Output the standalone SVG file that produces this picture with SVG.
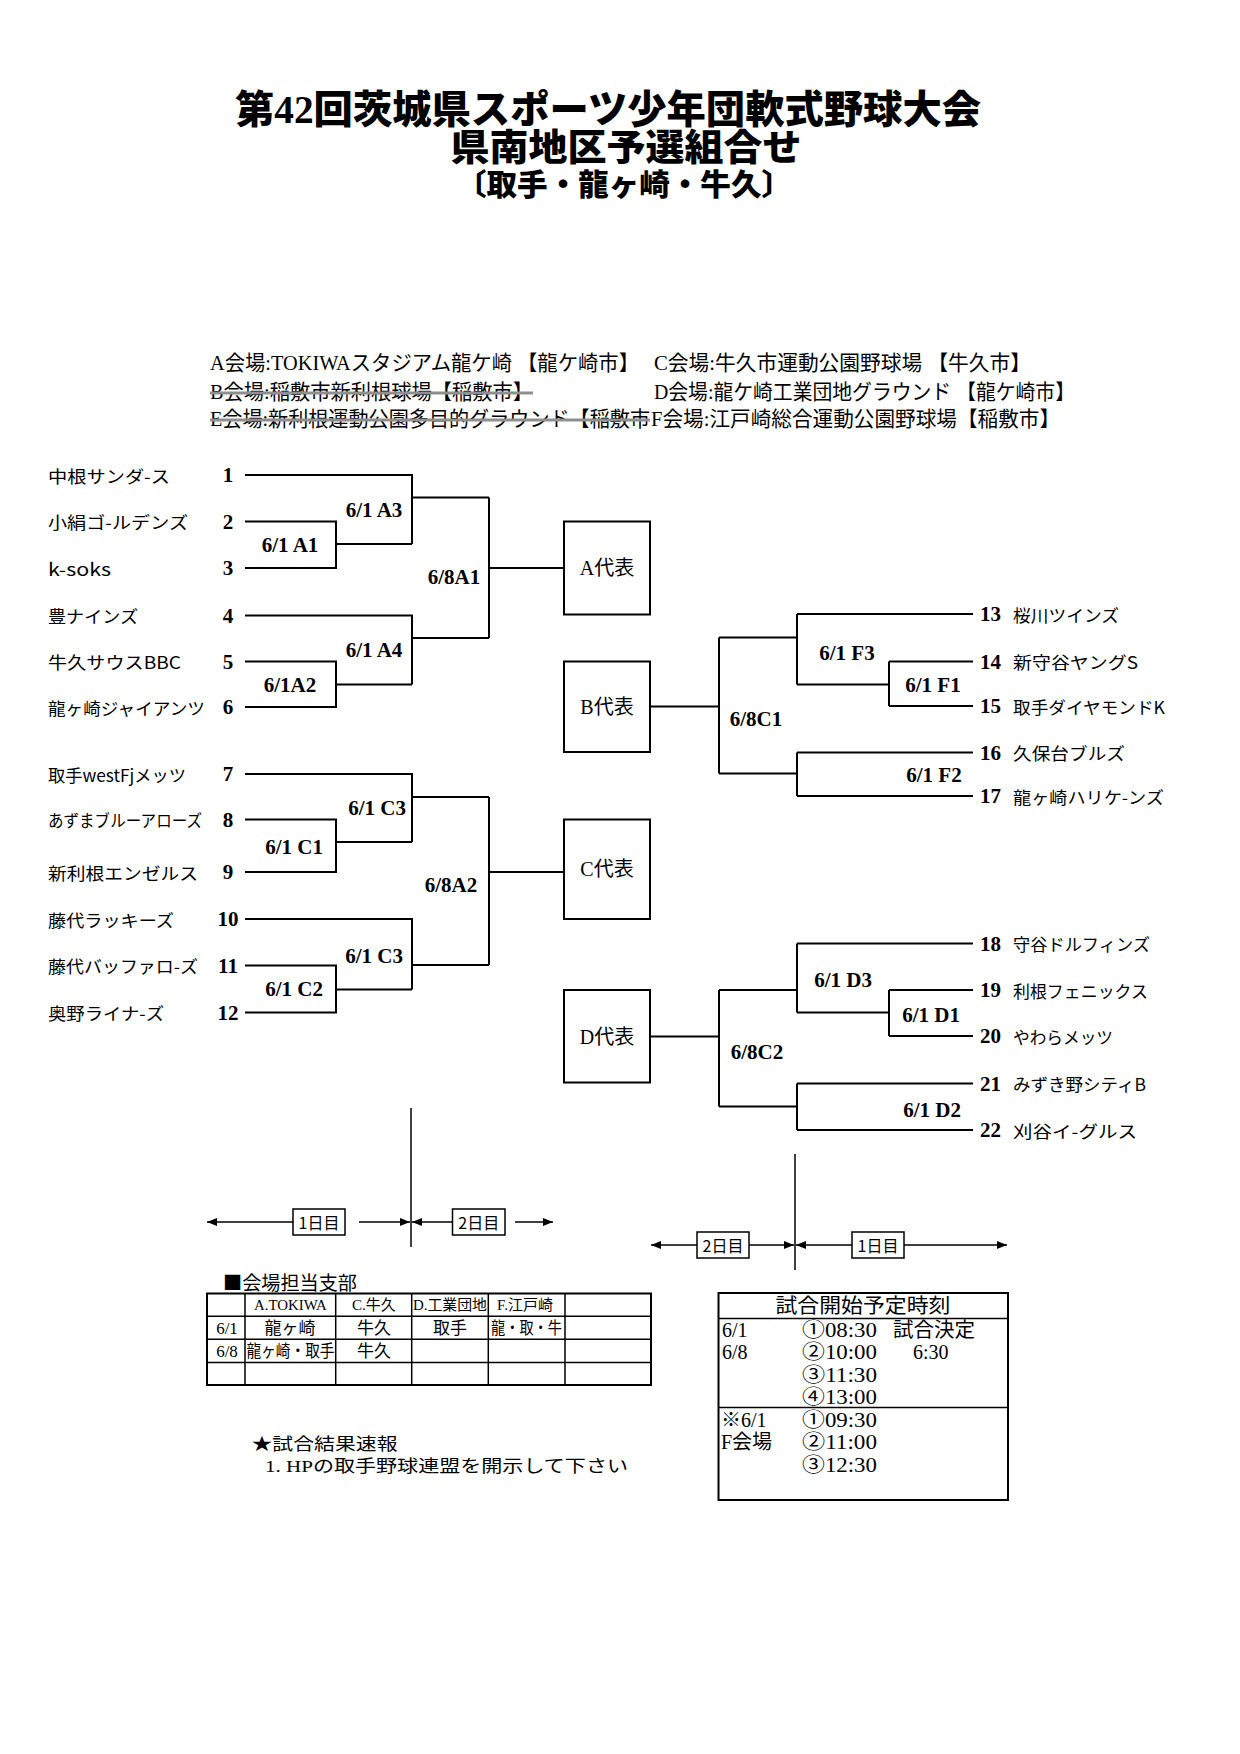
<svg xmlns="http://www.w3.org/2000/svg" width="1240" height="1754" viewBox="0 0 1240 1754">
<style>
text{dominant-baseline:central}
.ttl{font-family:"Liberation Serif","Noto Sans CJK JP",serif;font-weight:900;text-anchor:middle}
.ven{font-family:"Liberation Serif","Noto Sans CJK JP",serif;font-size:21px}
.tm{font-family:"Noto Sans CJK JP",sans-serif;font-size:17px}
.num{font-family:"Liberation Serif",serif;font-weight:bold;font-size:21px}
.nl{text-anchor:middle}
.lbl{font-family:"Liberation Serif",serif;font-weight:bold;font-size:21px;text-anchor:middle}
.bx{fill:#fff;stroke:#000;stroke-width:2}
.bxt{font-family:"Liberation Serif","Noto Sans CJK JP",serif;font-size:20px;text-anchor:middle}
.ln{fill:none;stroke:#000;stroke-width:2}
.al{fill:none;stroke:#000;stroke-width:1.5}
.sb{fill:#fff;stroke:#000;stroke-width:1.5}
.sbt{font-family:"Noto Sans CJK JP",sans-serif;font-size:16px;text-anchor:middle}
.strike{stroke:#8f8f8f;stroke-width:3}
.grid{fill:none;stroke:#000;stroke-width:1.5}
.tbl{font-family:"Liberation Serif","Noto Sans CJK JP",serif;font-size:17px}
.tbh{font-family:"Liberation Serif","Noto Sans CJK JP",serif;font-size:15px}
.sch{font-family:"Liberation Serif","Noto Sans CJK JP",serif;font-size:20px}
.mid{text-anchor:middle}
</style>
<defs>
<marker id="ah" viewBox="0 0 10 8" refX="10" refY="4" markerWidth="10" markerHeight="8" markerUnits="userSpaceOnUse" orient="auto-start-reverse">
<path d="M0,0 L10,4 L0,8 z" fill="#000"/>
</marker>
</defs>
<rect width="1240" height="1754" fill="#fff"/>

<g id="title">
<text class="ttl" x="608" y="109" font-size="39" textLength="746" lengthAdjust="spacingAndGlyphs">第42回茨城県スポーツ少年団軟式野球大会</text>
<text class="ttl" x="626" y="148" font-size="37" textLength="351" lengthAdjust="spacingAndGlyphs">県南地区予選組合せ</text>
<text class="ttl" x="624" y="184" font-size="30" textLength="336" lengthAdjust="spacingAndGlyphs">〔取手・龍ヶ崎・牛久〕</text>
</g>

<g id="venues">
<text class="ven" x="210" y="363" textLength="429" lengthAdjust="spacingAndGlyphs">A会場:TOKIWAスタジアム龍ケ崎 【龍ケ崎市】</text>
<text class="ven" x="654" y="363" textLength="377" lengthAdjust="spacingAndGlyphs">C会場:牛久市運動公園野球場 【牛久市】</text>
<text class="ven" x="210" y="392" textLength="323" lengthAdjust="spacingAndGlyphs">B会場:稲敷市新利根球場【稲敷市】</text>
<line class="strike" x1="210" y1="393" x2="533" y2="393"/>
<text class="ven" x="654" y="392" textLength="421" lengthAdjust="spacingAndGlyphs">D会場:龍ケ崎工業団地グラウンド 【龍ケ崎市】</text>
<text class="ven" x="210" y="419" textLength="440" lengthAdjust="spacingAndGlyphs">E会場:新利根運動公園多目的グラウンド【稲敷市</text>
<line class="strike" x1="210" y1="420" x2="650" y2="420"/>
<text class="ven" x="651" y="419" textLength="409" lengthAdjust="spacingAndGlyphs">F会場:江戸崎総合運動公園野球場【稲敷市】</text>
</g>

<g id="connectors">
<path class="ln" d="M245,475 H412 V544 M245,521.5 H336 V568 H245 M336,544 H412 M412,497.5 H489"/>
<path class="ln" d="M245,615.5 H412 V684.5 M245,661.5 H336 V707 H245 M336,684.5 H412 M412,638 H489"/>
<path class="ln" d="M489,497.5 V638 M489,568 H564"/>
<path class="ln" d="M245,774 H412 V842 M245,819.5 H336 V872 H245 M336,842 H412 M412,797 H489"/>
<path class="ln" d="M245,919 H412 V989.5 M245,965.5 H336 V1012.5 H245 M336,989.5 H412 M412,965 H489"/>
<path class="ln" d="M489,797 V965 M489,872 H564"/>
<path class="ln" d="M650,706.5 H719 M719,637.5 V773.5 M719,637.5 H797 M797,614 V684.5 M797,614 H973 M797,684.5 H889 M889,661.5 V706 M889,661.5 H973 M889,706 H973 M719,773.5 H797 M797,752.5 V796 M797,752.5 H973 M797,796 H973"/>
<path class="ln" d="M650,1036.5 H719 M719,990 V1106.5 M719,990 H797 M797,943.5 V1012.5 M797,943.5 H973 M797,1012.5 H889 M889,990 V1036 M889,990 H973 M889,1036 H973 M719,1106.5 H797 M797,1083.5 V1130 M797,1083.5 H973 M797,1130 H973"/>
<line class="al" x1="411" y1="1108" x2="411" y2="1247"/>
<path class="al" d="M293,1222 H207" marker-end="url(#ah)"/>
<path class="al" d="M359,1222 H410" marker-end="url(#ah)"/>
<path class="al" d="M452,1222 H412" marker-end="url(#ah)"/>
<path class="al" d="M515,1222 H553" marker-end="url(#ah)"/>
<line class="al" x1="795" y1="1154" x2="795" y2="1270"/>
<path class="al" d="M697,1245 H651" marker-end="url(#ah)"/>
<path class="al" d="M749,1245 H794" marker-end="url(#ah)"/>
<path class="al" d="M852,1245 H796" marker-end="url(#ah)"/>
<path class="al" d="M904,1245 H1007" marker-end="url(#ah)"/>
</g>

<g id="teams-left">
<g id="team-1"><text class="tm" x="48" y="475" textLength="122" lengthAdjust="spacingAndGlyphs">中根サンダ-ス</text><text class="num nl" x="228" y="475">1</text></g>
<g id="team-2"><text class="tm" x="48" y="521.5" textLength="140" lengthAdjust="spacingAndGlyphs">小絹ゴ-ルデンズ</text><text class="num nl" x="228" y="521.5">2</text></g>
<g id="team-3"><text class="tm" x="48" y="568" textLength="63" lengthAdjust="spacingAndGlyphs">k-soks</text><text class="num nl" x="228" y="568">3</text></g>
<g id="team-4"><text class="tm" x="48" y="615.5" textLength="90" lengthAdjust="spacingAndGlyphs">豊ナインズ</text><text class="num nl" x="228" y="615.5">4</text></g>
<g id="team-5"><text class="tm" x="48" y="661.5" textLength="133" lengthAdjust="spacingAndGlyphs">牛久サウスBBC</text><text class="num nl" x="228" y="661.5">5</text></g>
<g id="team-6"><text class="tm" x="48" y="707" textLength="157" lengthAdjust="spacingAndGlyphs">龍ヶ崎ジャイアンツ</text><text class="num nl" x="228" y="707">6</text></g>
<g id="team-7"><text class="tm" x="48" y="774" textLength="138" lengthAdjust="spacingAndGlyphs">取手westFjメッツ</text><text class="num nl" x="228" y="774">7</text></g>
<g id="team-8"><text class="tm" x="48" y="819.5" textLength="154" lengthAdjust="spacingAndGlyphs">あずまブルーアローズ</text><text class="num nl" x="228" y="819.5">8</text></g>
<g id="team-9"><text class="tm" x="48" y="872" textLength="150" lengthAdjust="spacingAndGlyphs">新利根エンゼルス</text><text class="num nl" x="228" y="872">9</text></g>
<g id="team-10"><text class="tm" x="48" y="919" textLength="126" lengthAdjust="spacingAndGlyphs">藤代ラッキーズ</text><text class="num nl" x="228" y="919">10</text></g>
<g id="team-11"><text class="tm" x="48" y="965.5" textLength="150" lengthAdjust="spacingAndGlyphs">藤代バッファロ-ズ</text><text class="num nl" x="228" y="965.5">11</text></g>
<g id="team-12"><text class="tm" x="48" y="1012.5" textLength="116" lengthAdjust="spacingAndGlyphs">奥野ライナ-ズ</text><text class="num nl" x="228" y="1012.5">12</text></g>
</g>

<g id="teams-right">
<g id="team-13"><text class="num" x="980" y="614">13</text><text class="tm" x="1013" y="614" textLength="106" lengthAdjust="spacingAndGlyphs">桜川ツインズ</text></g>
<g id="team-14"><text class="num" x="980" y="661.5">14</text><text class="tm" x="1013" y="661.5" textLength="125" lengthAdjust="spacingAndGlyphs">新守谷ヤングS</text></g>
<g id="team-15"><text class="num" x="980" y="706">15</text><text class="tm" x="1013" y="706" textLength="152" lengthAdjust="spacingAndGlyphs">取手ダイヤモンドK</text></g>
<g id="team-16"><text class="num" x="980" y="752.5">16</text><text class="tm" x="1013" y="752.5" textLength="112" lengthAdjust="spacingAndGlyphs">久保台ブルズ</text></g>
<g id="team-17"><text class="num" x="980" y="796">17</text><text class="tm" x="1013" y="796" textLength="151" lengthAdjust="spacingAndGlyphs">龍ヶ崎ハリケ-ンズ</text></g>
<g id="team-18"><text class="num" x="980" y="943.5">18</text><text class="tm" x="1013" y="943.5" textLength="137" lengthAdjust="spacingAndGlyphs">守谷ドルフィンズ</text></g>
<g id="team-19"><text class="num" x="980" y="990">19</text><text class="tm" x="1013" y="990" textLength="135" lengthAdjust="spacingAndGlyphs">利根フェニックス</text></g>
<g id="team-20"><text class="num" x="980" y="1036">20</text><text class="tm" x="1013" y="1036" textLength="100" lengthAdjust="spacingAndGlyphs">やわらメッツ</text></g>
<g id="team-21"><text class="num" x="980" y="1083.5">21</text><text class="tm" x="1013" y="1083.5" textLength="133" lengthAdjust="spacingAndGlyphs">みずき野シティB</text></g>
<g id="team-22"><text class="num" x="980" y="1130">22</text><text class="tm" x="1013" y="1130" textLength="124" lengthAdjust="spacingAndGlyphs">刈谷イ-グルス</text></g>
</g>

<g id="match-labels">
<text class="lbl" x="374" y="510">6/1 A3</text>
<text class="lbl" x="290" y="545">6/1 A1</text>
<text class="lbl" x="454" y="577">6/8A1</text>
<text class="lbl" x="374" y="650">6/1 A4</text>
<text class="lbl" x="290" y="685">6/1A2</text>
<text class="lbl" x="377" y="807.5">6/1 C3</text>
<text class="lbl" x="294" y="846.5">6/1 C1</text>
<text class="lbl" x="451" y="885">6/8A2</text>
<text class="lbl" x="374" y="956">6/1 C3</text>
<text class="lbl" x="294" y="988.5">6/1 C2</text>
<text class="lbl" x="847" y="653">6/1 F3</text>
<text class="lbl" x="933" y="684.5">6/1 F1</text>
<text class="lbl" x="756" y="718.5">6/8C1</text>
<text class="lbl" x="934" y="775">6/1 F2</text>
<text class="lbl" x="843" y="980">6/1 D3</text>
<text class="lbl" x="931" y="1015">6/1 D1</text>
<text class="lbl" x="757" y="1052">6/8C2</text>
<text class="lbl" x="932" y="1110">6/1 D2</text>
</g>

<g id="box-A"><rect class="bx" x="564" y="521.5" width="86" height="93"/><text class="bxt" x="607" y="568">A代表</text></g>
<g id="box-B"><rect class="bx" x="564" y="661.5" width="86" height="90.5"/><text class="bxt" x="607" y="706.5">B代表</text></g>
<g id="box-C"><rect class="bx" x="564" y="819.5" width="86" height="99.5"/><text class="bxt" x="607" y="869">C代表</text></g>
<g id="box-D"><rect class="bx" x="564" y="990" width="86" height="92.5"/><text class="bxt" x="607" y="1036.5">D代表</text></g>

<g id="day-boxes">
<g id="day-1-left"><rect class="sb" x="293" y="1209" width="52" height="26"/><text class="sbt" x="319" y="1222">1日目</text></g>
<g id="day-2-left"><rect class="sb" x="452.5" y="1209" width="52.5" height="26"/><text class="sbt" x="478.7" y="1222">2日目</text></g>
<g id="day-2-right"><rect class="sb" x="697" y="1232" width="52" height="26"/><text class="sbt" x="723" y="1245">2日目</text></g>
<g id="day-1-right"><rect class="sb" x="852" y="1232" width="52" height="26"/><text class="sbt" x="878" y="1245">1日目</text></g>
</g>

<g id="venue-table">
<text x="223" y="1281" font-family="Noto Sans CJK JP, sans-serif" font-size="19" textLength="134" lengthAdjust="spacingAndGlyphs">■会場担当支部</text>
<rect x="207" y="1293.5" width="444" height="91.5" fill="none" stroke="#000" stroke-width="2"/>
<path class="grid" d="M245,1293.5 V1385 M335.7,1293.5 V1385 M411.7,1293.5 V1385 M488.3,1293.5 V1385 M565,1293.5 V1385 M207,1316.3 H651 M207,1339.3 H651 M207,1362.5 H651"/>
<text class="tbh mid" x="290.4" y="1305" textLength="73" lengthAdjust="spacingAndGlyphs">A.TOKIWA</text>
<text class="tbh mid" x="374" y="1305">C.牛久</text>
<text class="tbh" x="413" y="1305" textLength="74" lengthAdjust="spacingAndGlyphs">D.工業団地</text>
<text class="tbh" x="497" y="1305">F.江戸崎</text>
<text class="tbl mid" x="227" y="1328">6/1</text>
<text class="tbl mid" x="290" y="1328">龍ヶ崎</text>
<text class="tbl mid" x="374" y="1328">牛久</text>
<text class="tbl mid" x="450" y="1328">取手</text>
<text class="tbl" x="491" y="1328" textLength="71" lengthAdjust="spacingAndGlyphs">龍・取・牛</text>
<text class="tbl mid" x="227" y="1351">6/8</text>
<text class="tbl" x="246.5" y="1351" textLength="88" lengthAdjust="spacingAndGlyphs">龍ヶ崎・取手</text>
<text class="tbl mid" x="374" y="1351">牛久</text>
</g>

<g id="results-note">
<text class="tbl" x="251.5" y="1444" font-size="21" textLength="146" lengthAdjust="spacingAndGlyphs">★試合結果速報</text>
<text class="tbl" x="265" y="1466" font-size="20" textLength="363" lengthAdjust="spacingAndGlyphs">1.  HPの取手野球連盟を開示して下さい</text>
</g>

<g id="schedule">
<rect x="718.5" y="1293" width="289.5" height="207" fill="none" stroke="#000" stroke-width="2"/>
<path class="grid" d="M718.5,1318.5 H1008 M718.5,1407.5 H1008"/>
<text class="sch mid" x="863" y="1306" textLength="175" lengthAdjust="spacingAndGlyphs">試合開始予定時刻</text>
<text class="sch" x="722" y="1330">6/1</text>
<text class="sch" x="722" y="1352">6/8</text>
<text class="sch" x="802" y="1330" textLength="75" lengthAdjust="spacingAndGlyphs">①08:30</text>
<text class="sch" x="802" y="1352" textLength="75" lengthAdjust="spacingAndGlyphs">②10:00</text>
<text class="sch" x="802" y="1374.5" textLength="75" lengthAdjust="spacingAndGlyphs">③11:30</text>
<text class="sch" x="802" y="1396.5" textLength="75" lengthAdjust="spacingAndGlyphs">④13:00</text>
<text class="sch" x="893" y="1330" textLength="82" lengthAdjust="spacingAndGlyphs">試合決定</text>
<text class="sch" x="913" y="1352">6:30</text>
<text class="sch" x="721" y="1420">※6/1</text>
<text class="sch" x="721" y="1442">F会場</text>
<text class="sch" x="802" y="1420" textLength="75" lengthAdjust="spacingAndGlyphs">①09:30</text>
<text class="sch" x="802" y="1442" textLength="75" lengthAdjust="spacingAndGlyphs">②11:00</text>
<text class="sch" x="802" y="1464.5" textLength="75" lengthAdjust="spacingAndGlyphs">③12:30</text>
</g>
</svg>
